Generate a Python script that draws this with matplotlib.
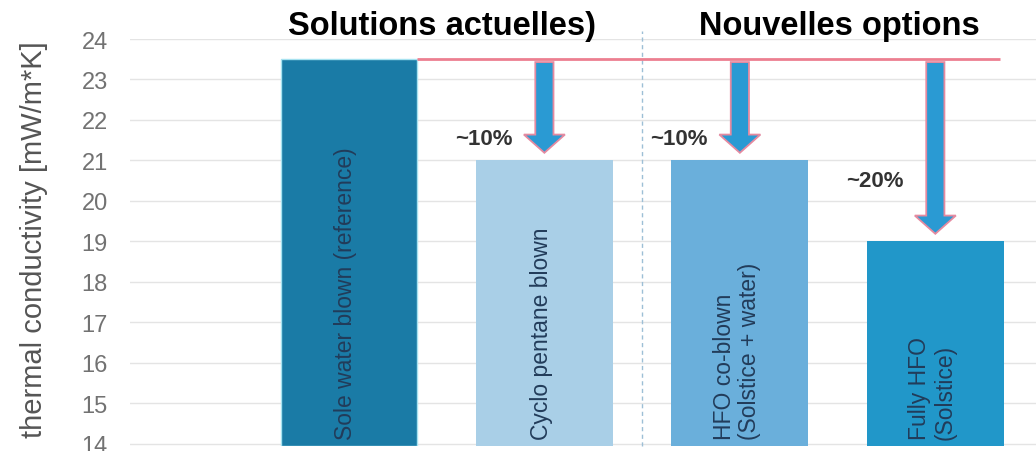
import matplotlib
matplotlib.use('Agg')
import matplotlib.pyplot as plt
from matplotlib.patches import FancyArrow

plt.rcParams['font.family'] = 'Liberation Sans'

categories = ['Sole water blown (reference)', 'Cyclo pentane blown',
              'HFO co-blown\n(Solstice + water)', 'Fully HFO\n(Solstice)']
values = [23.5, 21.0, 21.0, 19.0]
reductions = ['', '~10%', '~10%', '~20%']
bar_colors = ['#1a7ba6', '#a9cfe7', '#6aafdb', '#2197c9']
group_titles = ['Solutions actuelles)', 'Nouvelles options']
yticks = list(range(14, 25))

fig = plt.figure(figsize=(10.36, 4.52), dpi=100)
ax = fig.add_axes([130 / 1036, 1 - 447 / 452, 906 / 1036, 407 / 452])

x = list(range(len(values)))
ax.set_xlim(-1.12, 3.515)
ax.set_ylim(13.95, 24.0)

for t in yticks:
    ax.axhline(t, color='#e4e4e4', lw=1, zorder=0)

bars = ax.bar(x, [v - 13.95 for v in values], bottom=13.95, width=0.7,
              color=bar_colors, zorder=2)
bars[0].set_edgecolor('#a6e2f0')
bars[0].set_linewidth(1)

# labels written upwards inside each bar
for xi, name in zip(x, categories):
    ax.text(xi - 0.015, 14.12, name, rotation=90, ha='center', va='bottom',
            multialignment='left', fontsize=16.5, color='#223c5a', zorder=4,
            linespacing=1.15)

# reference level line
ref = values[0]
ax.hlines(ref, 0.35, 3.33, color='#ec7f90', lw=2, zorder=3)

# drop arrows from reference level down to each alternative
for xi, v, lab in zip(x[1:], values[1:], reductions[1:]):
    start = ref - 0.07
    tip = v + 0.19
    arr = FancyArrow(xi, start, 0, tip - start, width=0.093, head_width=0.21,
                     head_length=0.45, length_includes_head=True,
                     facecolor='#2a9ad3', edgecolor='#e58aa0', lw=1.3, zorder=5)
    ax.add_patch(arr)
    ax.text(xi - 0.31, v + 0.55 if v > 20 else v + 1.5, lab, ha='center',
            va='center', fontsize=16, fontweight='bold', color='#333333')

# separator between current and new solutions
ax.vlines(1.5, 13.95, 24.2, color='#9dbfd6', lw=1, linestyles=(0, (3, 2.5)),
          zorder=1, clip_on=False)

ax.text(0.476, 24.33, group_titles[0], ha='center', va='center',
        fontsize=23.5, fontweight='bold', color='black', clip_on=False)
ax.text(2.51, 24.33, group_titles[1], ha='center', va='center',
        fontsize=23.5, fontweight='bold', color='black', clip_on=False)

ax.set_yticks(yticks)
ax.set_xticks([])
ax.tick_params(axis='y', length=0, pad=16, labelsize=17, labelcolor='#727272')
for s in ax.spines.values():
    s.set_visible(False)
ax.set_ylabel('thermal conductivity [mW/m*K]', fontsize=21, color='#555555')
ax.yaxis.set_label_coords(-0.09, 0.51)

fig.savefig('out.png', dpi=100)
